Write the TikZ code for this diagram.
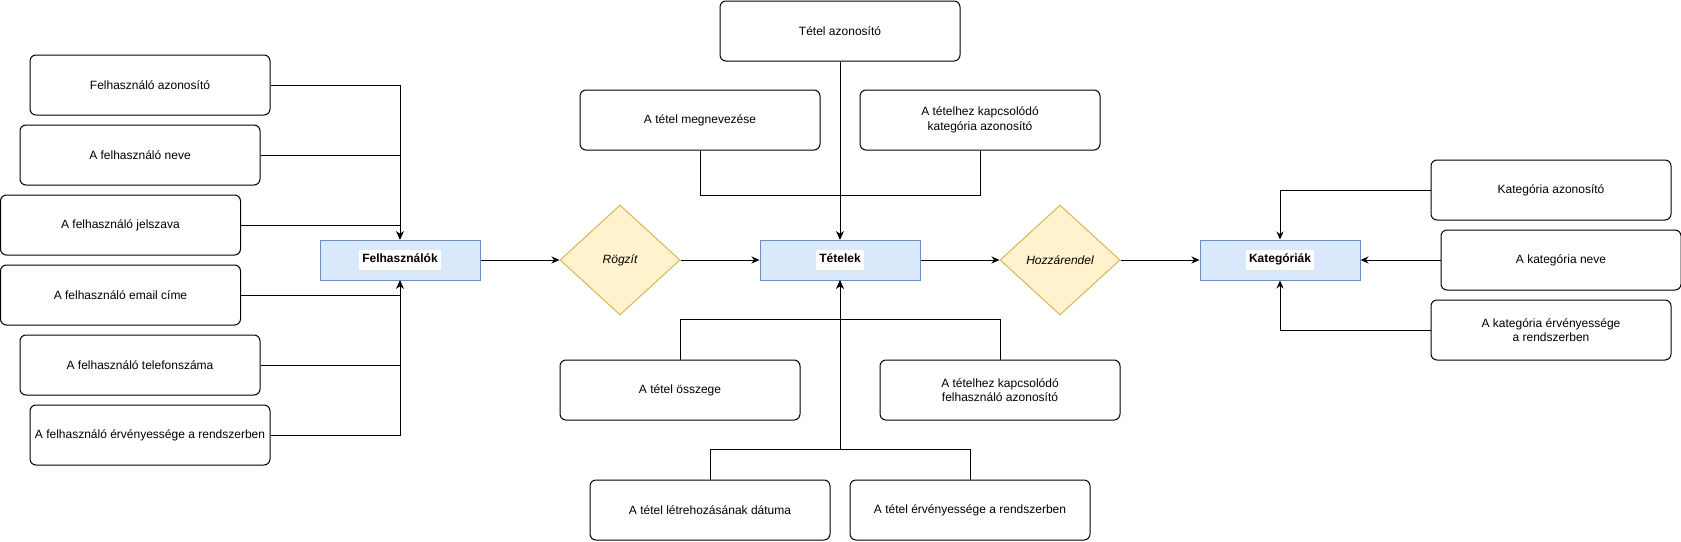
\documentclass[tikz,border=0pt]{standalone}
\usepackage{fontspec}
\setmainfont{Liberation Sans}
\usetikzlibrary{shapes.geometric,arrows.meta}
\definecolor{entfill}{HTML}{DAE8FC}
\definecolor{entline}{HTML}{6C8EBF}
\definecolor{relfill}{HTML}{FFF2CC}
\definecolor{relline}{HTML}{D6B656}
\newcommand{\entname}[1]{{\setlength{\fboxsep}{3pt}\colorbox{white}{\bfseries\strut #1}}}

\begin{document}
\begin{tikzpicture}
	[x=1pt, y=-1pt, font=\fontsize{12}{14.4}\selectfont,
	attr/.style={draw, rounded corners=6pt, minimum width=240pt, minimum height=60pt, align=center, line width=1pt},
	entity/.style={draw=entline, fill=entfill, minimum width=160pt, minimum height=40pt, line width=1pt},
	rel/.style={diamond, draw=relline, fill=relfill, minimum width=120pt, minimum height=110pt, inner sep=0pt, font=\fontsize{12}{14.4}\selectfont\itshape, line width=1pt},
	arr/.style={-{Stealth[length=8pt,width=7pt]}, line width=1pt}]
	\useasboundingbox (0,0) rectangle (1681,541);

	% felhasznalok
	\node[attr] (fazon) at (150,85) {Felhasználó azonosító};
	\node[attr] (fnev) at (140,155) {A felhasználó neve};
	\node[attr] (fjelsz) at (120.5,225) {A felhasználó jelszava};
	\node[attr] (femail) at (120.5,295) {A felhasználó email címe};
	\node[attr] (ftel) at (140,365) {A felhasználó telefonszáma};
	\node[attr] (ferv) at (150,435) {A felhasználó érvényessége a rendszerben};
	\node[entity] (felh) at (400,260) {\entname{Felhasználók}};

	% tetelek
	\node[attr] (tazon) at (840,31) {Tétel azonosító};
	\node[attr] (tmegn) at (700,120) {A tétel megnevezése};
	\node[attr] (tkat) at (980,120) {A tételhez kapcsolódó\\kategória azonosító};
	\node[attr] (tossz) at (680,390) {A tétel összege};
	\node[attr] (tfelh) at (1000,390) {A tételhez kapcsolódó\\felhasználó azonosító};
	\node[attr] (tdatum) at (710,510) {A tétel létrehozásának dátuma};
	\node[attr] (terv) at (970,510) {A tétel érvényessége a rendszerben};
	\node[entity] (tetelek) at (840,260) {\entname{Tételek}};

	% kategoriak
	\node[attr] (kazon) at (1551,190) {Kategória azonosító};
	\node[attr] (knev) at (1561,260) {A kategória neve};
	\node[attr] (kerv) at (1551,330) {A kategória érvényessége\\a rendszerben};
	\node[entity] (kateg) at (1280,260) {\entname{Kategóriák}};

	\node[rel] (rogzit) at (620,260) {Rögzít};
	\node[rel] (hozza) at (1060,260) {Hozzárendel};

	\foreach \a in {fazon,fnev,fjelsz}
		\draw[arr] (\a.east) -| (felh.north);
	\foreach \a in {femail,ftel,ferv}
		\draw[arr] (\a.east) -| (felh.south);

	\draw[arr] (felh) -- (rogzit);
	\draw[arr] (rogzit) -- (tetelek);
	\draw[arr] (tetelek) -- (hozza);
	\draw[arr] (hozza) -- (kateg);

	\draw[arr] (tazon.south) -- (tetelek.north);
	\draw[arr] (tmegn.south) -- ++(0,45) -| (tetelek.north);
	\draw[arr] (tkat.south) -- ++(0,45) -| (tetelek.north);
	\draw[arr] (tossz.north) -- ++(0,-40) -| (tetelek.south);
	\draw[arr] (tfelh.north) -- ++(0,-40) -| (tetelek.south);
	\draw[arr] (tdatum.north) -- ++(0,-30) -| (tetelek.south);
	\draw[arr] (terv.north) -- ++(0,-30) -| (tetelek.south);

	\draw[arr] (kazon.west) -| (kateg.north);
	\draw[arr] (knev.west) -- (kateg.east);
	\draw[arr] (kerv.west) -| (kateg.south);
\end{tikzpicture}
\end{document}
